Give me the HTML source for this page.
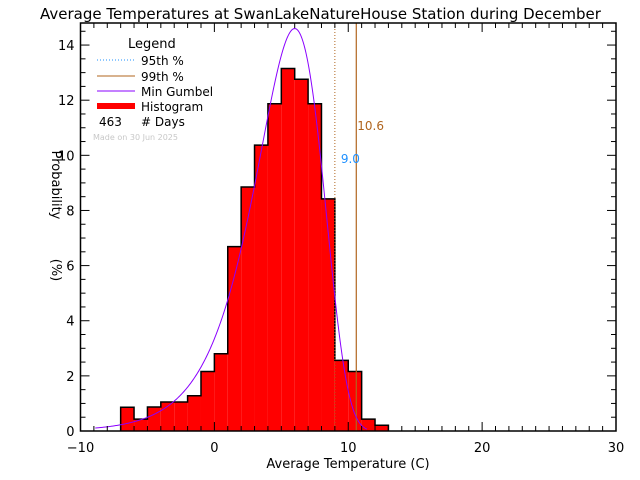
<!DOCTYPE html>
<html><head><meta charset="utf-8"><style>
html,body{margin:0;padding:0;background:#fff;width:640px;height:480px;overflow:hidden}
svg{display:block;font-family:"DejaVu Sans","Liberation Sans",sans-serif}
</style></head><body>
<svg id="chart" width="640" height="480" viewBox="0 0 640 480">
<text x="40" y="19" font-size="15" fill="#000">Average Temperatures at SwanLakeNatureHouse Station during December</text>
<g id="plot"></g>
<text x="348" y="468" font-size="13" text-anchor="middle">Average Temperature (C)</text>
<text transform="translate(52,185) rotate(90)" font-size="13" text-anchor="middle">Probability</text>
<text transform="translate(52,270) rotate(90)" font-size="13" text-anchor="middle">(%)</text>
<g>
<text x="128" y="48" font-size="13">Legend</text>
<line x1="97" y1="60" x2="135" y2="60" stroke="#1e90ff" stroke-dasharray="1,2"/>
<text x="141" y="65" font-size="12">95th %</text>
<line x1="97" y1="76" x2="135" y2="76" stroke="#b0651e"/>
<text x="141" y="81" font-size="12">99th %</text>
<line x1="97" y1="91" x2="135" y2="91" stroke="#8a00ff"/>
<text x="141" y="96" font-size="12">Min Gumbel</text>
<rect x="97" y="103" width="38" height="6" fill="#ff0000"/>
<text x="141" y="111" font-size="12">Histogram</text>
<text x="99" y="126" font-size="12">463</text>
<text x="141" y="126" font-size="12"># Days</text>
<text x="93" y="140" font-size="8" fill="#c8c8c8">Made on 30 Jun 2025</text>
</g>
</svg>
<script>
const binStarts=[-7,-6,-5,-4,-3,-2,-1,0,1,2,3,4,5,6,7,8,9,10,11,12];
const binValues=[0.86,0.43,0.87,1.05,1.05,1.28,2.16,2.8,6.69,8.85,10.37,11.87,13.15,12.76,11.87,8.42,2.56,2.16,0.43,0.21];
const binWidth=[1];
const xTicks=[-10,0,10,20,30];
const yTicks=[0,2,4,6,8,10,12,14];
const percentiles=[9.0,10.6];
const gumbelParams=[6.0,2.52];
const gumbelRange=[-8.9,11.4];
const X0=-10,X1=30,Y0=0,Y1=14.8;
const L=80.5,R=616,T=23,B=431;
const sx=v=>L+(v-X0)/(X1-X0)*(R-L);
const sy=v=>B-(v-Y0)/(Y1-Y0)*(B-T);
const NS='http://www.w3.org/2000/svg';
const g=document.getElementById('plot');
function mk(t,a){const e=document.createElementNS(NS,t);for(const k in a)e.setAttribute(k,a[k]);g.appendChild(e);return e;}
// bars
let d='M'+sx(binStarts[0])+','+sy(0);
binStarts.forEach((s,i)=>{
 const r=mk('rect',{x:sx(s),y:sy(binValues[i]),width:sx(s+binWidth[0])-sx(s),height:sy(0)-sy(binValues[i]),fill:'#ff0000'});
 
 
 d+=' L'+sx(s)+','+sy(binValues[i])+' L'+sx(s+binWidth[0])+','+sy(binValues[i]);
});
d+=' L'+sx(binStarts[binStarts.length-1]+binWidth[0])+','+sy(0);
const out=mk('path',{d:d,fill:'none',stroke:'#000','stroke-width':1.5});


// percentile lines
const p95=mk('line',{x1:sx(percentiles[0]),x2:sx(percentiles[0]),y1:T,y2:B,stroke:'#b0651e','stroke-dasharray':'1,2'});


const p99=mk('line',{x1:sx(percentiles[1]),x2:sx(percentiles[1]),y1:T,y2:B,stroke:'#b0651e','stroke-width':1.2});


const t95=mk('text',{x:sx(percentiles[0])+6,y:163,'font-size':12,fill:'#1e90ff'});
t95.textContent=percentiles[0].toFixed(1);


const t99=mk('text',{x:sx(percentiles[1])+1,y:130,'font-size':12,fill:'#b0651e'});
t99.textContent=percentiles[1].toFixed(1);


// gumbel
const mu=gumbelParams[0],be=gumbelParams[1];
let gp='';
for(let x=gumbelRange[0];x<=gumbelRange[1]+1e-9;x+=0.05){const z=(x-mu)/be;const f=100/be*Math.exp(z-Math.exp(z));gp+=(gp?' L':'M')+sx(x).toFixed(2)+','+sy(f).toFixed(2);}
const gc=mk('path',{d:gp,fill:'none',stroke:'#8a00ff','stroke-width':1});


// frame
const fr=mk('rect',{x:L,y:T,width:R-L,height:B-T,fill:'none',stroke:'#000','stroke-width':1.5});


// x ticks
for(let v=X0;v<=X1;v++){const maj=v%10===0;const len=maj?9:5;
 mk('line',{x1:sx(v),x2:sx(v),y1:B,y2:B-len,stroke:'#000'});
 mk('line',{x1:sx(v),x2:sx(v),y1:T,y2:T+len,stroke:'#000'});}
xTicks.forEach(v=>{const t=mk('text',{x:sx(v),y:452,'font-size':13,'text-anchor':'middle'});t.textContent=v<0?'\u2212'+(-v):v;
 
 });
for(let v=0;v<=Y1;v+=0.5){const maj=v%2===0;const len=maj?9:5;
 mk('line',{x1:L,x2:L+len,y1:sy(v),y2:sy(v),stroke:'#000'});
 mk('line',{x1:R,x2:R-len,y1:sy(v),y2:sy(v),stroke:'#000'});}
yTicks.forEach(v=>{const t=mk('text',{x:L-6,y:sy(v)+5,'font-size':13,'text-anchor':'end'});t.textContent=v;
 
 });
</script>
</body></html>
